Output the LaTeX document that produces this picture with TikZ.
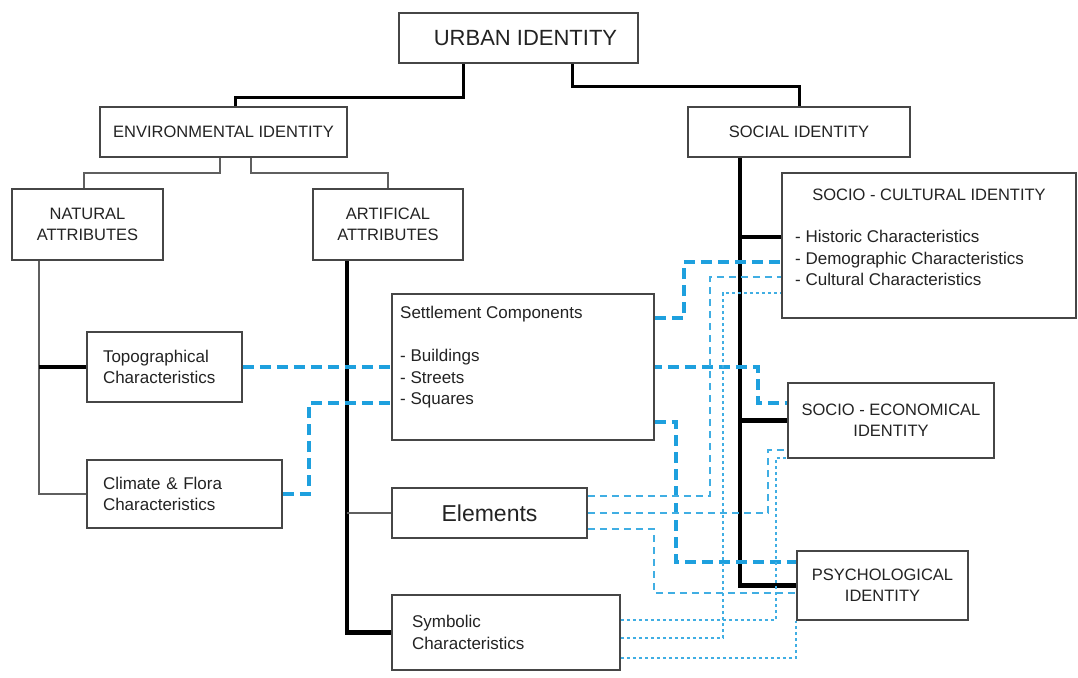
\documentclass[tikz,border=0pt]{standalone}
\usepackage{fontspec}
\setmainfont{Liberation Sans}
\usepackage{xcolor}
\definecolor{boxgray}{RGB}{70,70,70}
\definecolor{linegray}{RGB}{95,95,95}
\definecolor{linkblue}{RGB}{30,160,222}
\definecolor{textgray}{RGB}{35,35,35}
\newcommand{\capfont}{\fontsize{16.5}{21}\selectfont}
\newcommand{\txtfont}{\fontsize{17}{21.5}\selectfont}
\newcommand{\urbfont}{\fontsize{22}{26}\selectfont}
\newcommand{\elfont}{\fontsize{23}{27}\selectfont}
\pgfdeclarelayer{background}
\pgfsetlayers{background,main}

\begin{document}
\begin{tikzpicture}[
    x=1pt, y=-1pt,
    box/.style={draw=boxgray, line width=1.8pt, fill=white, inner sep=0pt, text=textgray, font=\capfont, align=center},
    leftbox/.style={box, font=\txtfont, align=left},
    txt/.style={inner sep=0pt, text=textgray, font=\txtfont, align=left},
    tree/.style={line width=3pt, black},
    trunk/.style={line width=4.5pt, black},
    twig/.style={line width=1.6pt, linegray},
    linkA/.style={draw=linkblue, line width=4pt, dash pattern=on 11pt off 6pt},
    linkB/.style={draw=linkblue!85, line width=2.4pt, dash pattern=on 7pt off 5pt},
    linkC/.style={draw=linkblue!85, line width=1.8pt, dash pattern=on 3.5pt off 2.5pt}
]
\useasboundingbox (0,0) rectangle (1078,677);

% top levels
\node[box, font=\urbfont, minimum width=239, minimum height=50] (urban) at (518.5,38) {\hspace*{14pt}URBAN IDENTITY};
\node[box, minimum width=247, minimum height=50] (env) at (223.5,132) {ENVIRONMENTAL IDENTITY};
\node[box, minimum width=222, minimum height=50] (social) at (799,132) {SOCIAL IDENTITY};

\node[box, minimum width=151, minimum height=71] (natural) at (87.5,224.5) {NATURAL\\ATTRIBUTES};
\node[box, minimum width=150, minimum height=71] (artif) at (388,224.5) {ARTIFICAL\\ATTRIBUTES};

% social side
\node[box, minimum width=294, minimum height=145] (socult) at (929,245.5) {};
\node[txt, font=\capfont] (socultitle) at (929,195) {SOCIO - CULTURAL IDENTITY};
\node[txt, anchor=north west] (socultitems) at (795,230) {- Historic Characteristics\\- Demographic Characteristics\\- Cultural Characteristics};
\node[box, minimum width=206, minimum height=75] (soecon) at (891,420.5) {SOCIO - ECONOMICAL\\IDENTITY};
\node[box, minimum width=171, minimum height=69] (psy) at (882.5,585.5) {PSYCHOLOGICAL\\IDENTITY};

% natural side
\node[leftbox, text width=123, minimum width=155, minimum height=70] (topo) at (164.5,367) {Topographical\\Characteristics};
\node[leftbox, text width=163, minimum width=195, minimum height=68] (climate) at (184.5,494) {Climate \& Flora\\Characteristics};

% artifical side
\node[box, minimum width=262, minimum height=146] (settle) at (523,367) {};
\node[txt, anchor=north west] (settletxt) at (400,306) {Settlement Components\\[21.5pt]- Buildings\\- Streets\\- Squares};
\node[box, font=\elfont, minimum width=195, minimum height=50] (elements) at (489.5,513) {Elements};
\node[leftbox, text width=188, minimum width=228, minimum height=75] (symbolic) at (506,632.5) {Symbolic\\Characteristics};

\coordinate (ntrunk) at ([xshift=-48.5pt]natural.south);
\coordinate (atrunk) at ([xshift=-41pt]artif.south);
\coordinate (strunk) at ([xshift=-59pt]social.south);
\coordinate (hist) at ([yshift=8.5pt]socult.west);

\begin{pgfonlayer}{background}
\fill[white] (0,0) rectangle (1078,677);

% tree
\draw[tree] ([xshift=-55.5pt]urban.south) -- ++(0,34) -| ([xshift=11.5pt]env.north);
\draw[tree] ([xshift=53.5pt]urban.south) -- ++(0,23) -| (social.north);
\draw[twig] ([xshift=-3.5pt]env.south) -- ++(0,15) -| ([xshift=-3.5pt]natural.north);
\draw[twig] ([xshift=27.5pt]env.south) -- ++(0,15) -| (artif.north);

\draw[twig] (ntrunk) |- (climate.west);
\draw[trunk] (ntrunk |- topo.west) -- (topo.west);

\draw[trunk] (atrunk) |- (symbolic.west);
\draw[twig] (atrunk |- elements.west) -- (elements.west);

\draw[trunk] (strunk) |- (psy.west);
\draw[trunk] (strunk |- hist) -- (hist);
\draw[trunk] (strunk |- soecon.west) -- (soecon.west);

% links
\draw[linkA] (topo.east) -- ++(515,0) |- ([yshift=17.5pt]soecon.west);
\draw[linkA] (climate.east) -- ++(26,0) |- ([yshift=-36pt]settle.west);
\draw[linkA] ([yshift=49pt]settle.east) -- ++(29,0) |- ([yshift=-16.5pt]socult.west);
\draw[linkA] ([yshift=-55pt]settle.east) -- ++(21,0) |- ([yshift=23.5pt]psy.west);

\draw[linkB] ([yshift=17pt]elements.east) -- ++(122,0) |- ([yshift=-31.5pt]socult.west);
\draw[linkB] (elements.east) -- ++(180,0) |- ([yshift=-29.5pt]soecon.west);
\draw[linkB] ([yshift=-16pt]elements.east) -- ++(66,0) |- ([yshift=-7.5pt]psy.west);

\draw[linkC] ([yshift=12.5pt]symbolic.east) -- ++(155,0) |- ([yshift=-37.5pt]soecon.west);
\draw[linkC] ([yshift=-5.5pt]symbolic.east) -- ++(102,0) |- ([yshift=-47.5pt]socult.west);
\draw[linkC] ([yshift=-25.5pt]symbolic.east) -| (psy.south west);
\end{pgfonlayer}
\end{tikzpicture}
\end{document}
